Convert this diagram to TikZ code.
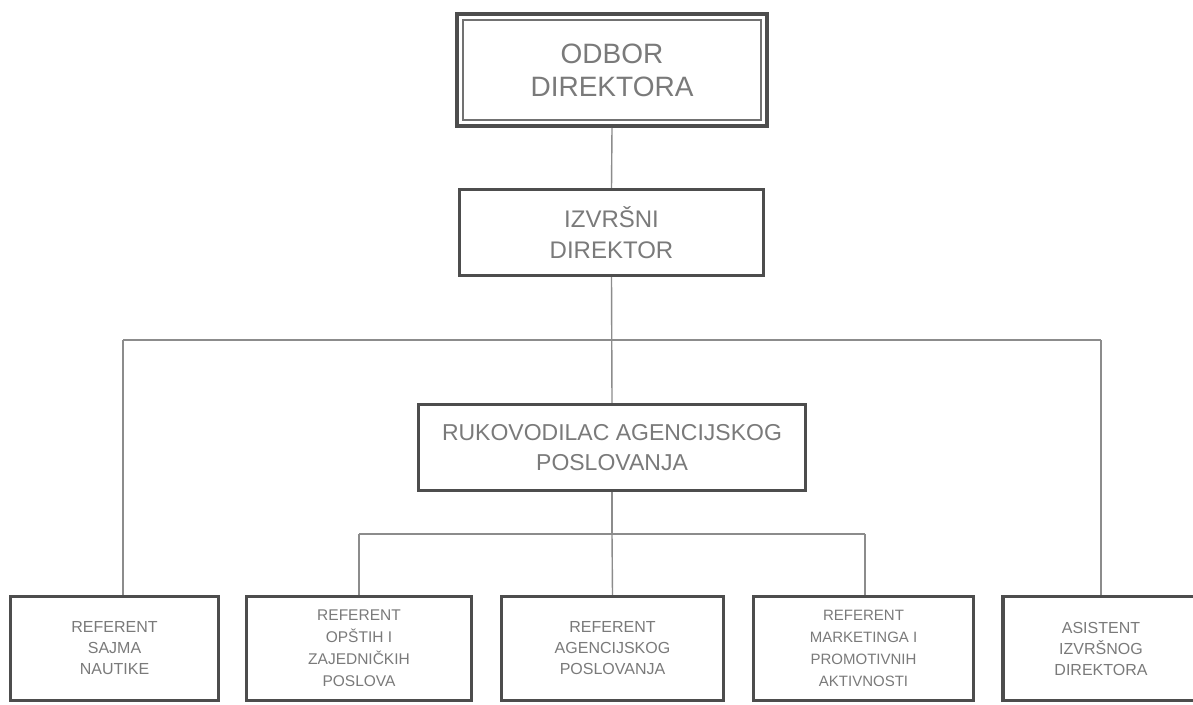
\documentclass[tikz,border=0pt]{standalone}
\usepackage{fontspec}
\setmainfont{Liberation Sans}
\usepackage{xcolor}
\usepackage{tikz}
\usetikzlibrary{positioning,calc}
\definecolor{boxline}{HTML}{4D4D4D}
\definecolor{boxtext}{HTML}{7A7A7A}
\definecolor{linkline}{HTML}{8C8C8C}

\begin{document}
\begin{tikzpicture}[x=1pt,y=1pt,
box/.style={draw=boxline, line width=3.2pt, fill=white, text=boxtext, align=center, inner sep=0pt},
link/.style={draw=linkline, line width=1.4pt}]
\useasboundingbox[fill=white] (0,0) rectangle (1193,-704);
% upper levels
\node[box, line width=4pt, minimum width=310, minimum height=112, font=\fontsize{28}{33}\selectfont] (odbor) at (612,-70) {ODBOR\\DIREKTORA};
\draw[boxline!80, line width=1.3pt] ($(odbor.south west)+(8,8)$) rectangle ($(odbor.north east)+(-8,-8)$);
\node[box, minimum width=304, minimum height=86, font=\fontsize{24}{31}\selectfont] (izvrsni) at (611.5,-232.5) {IZVRŠNI\\DIREKTOR};
\node[box, minimum width=387, minimum height=86, font=\fontsize{23}{30}\selectfont] (rukov) at (612,-447.5) {RUKOVODILAC AGENCIJSKOG\\POSLOVANJA};
% bottom row
\node[box, minimum width=208, minimum height=104, font=\fontsize{16}{21}\selectfont] (sajam) at (114.5,-648.5) {REFERENT\\SAJMA\\NAUTIKE};
\node[box, minimum width=225, minimum height=104, font=\fontsize{15.5}{22}\selectfont] (opsti) at (359,-648.5) {REFERENT\\OPŠTIH I\\ZAJEDNIČKIH\\POSLOVA};
\node[box, minimum width=222, minimum height=104, font=\fontsize{16}{21}\selectfont] (agenc) at (612.5,-648.5) {REFERENT\\AGENCIJSKOG\\POSLOVANJA};
\node[box, minimum width=220, minimum height=104, font=\fontsize{15}{22}\selectfont] (market) at (863.5,-648.5) {REFERENT\\MARKETINGA I\\PROMOTIVNIH\\AKTIVNOSTI};
\node[box, minimum width=196, minimum height=104, font=\fontsize{16}{21}\selectfont] (asist) at (1101,-648.5) {ASISTENT\\IZVRŠNOG\\DIREKTORA};
% buses
\coordinate (busTl) at (123,-340);
\coordinate (busTr) at (1101,-340);
\coordinate (busBl) at (359,-534);
\coordinate (busBr) at (865,-534);
\path[link] (odbor.south) -- (izvrsni.north);
\path[link] (izvrsni.south) -- (rukov.north);
\path[link] (busTl) -- (busTr);
\path[link] (busTl) -- (sajam.north -| busTl);
\path[link] (busTr) -- (asist.north);
\path[link] (rukov.south) -- (rukov.south |- busBl);
\path[link] (busBl) -- (busBr);
\path[link] (busBl) -- (opsti.north);
\path[link] (rukov.south |- busBl) -- (agenc.north);
\path[link] (busBr) -- (market.north -| busBr);
\end{tikzpicture}
\end{document}
